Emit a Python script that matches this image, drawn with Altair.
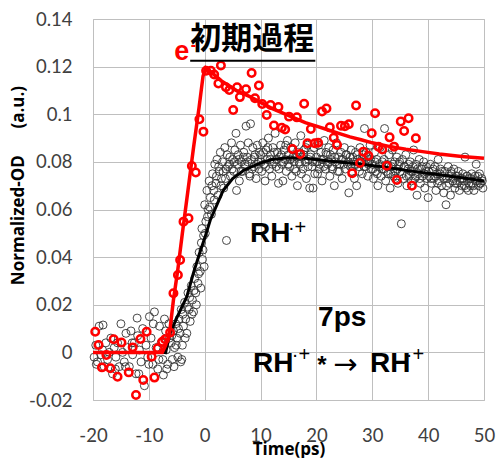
import altair as alt
import pandas as pd

# ---------------- data ----------------
x_ticks = [-20, -10, 0, 10, 20, 30, 40, 50]
y_ticks = [-0.02, 0, 0.02, 0.04, 0.06, 0.08, 0.1, 0.12, 0.14]

# red data points
red_x = [-19.6, -19.0, -18.4, -17.6, -16.9, -16.3, -15.6, -14.9, -13.6, -12.9, -12.3, -11.5, -11.0, -10.4,
         -9.5, -9.0, -8.4, -7.6, -7.1, -6.2, -5.6, -4.8, -4.4, -3.8, -2.9, -2.3, -1.6, -0.95, -0.23, 0.25,
         1.1, 1.7, 2.45, 2.9, 3.8, 4.4, 5.1, 5.8, 6.3, 7.4, 8.4, 9.0, 9.7, 10.3, 11.1, 11.8, 12.4, 13.2,
         13.8, 14.4, 15.1, 15.7, 16.5, 17.1, 17.8, 18.4, 19.0, 19.7, 20.3, 21.0, 21.8, 22.4, 23.1, 23.7,
         24.4, 25.1, 25.8, 26.4, 27.1, 27.8, 28.4, 29.3, 29.9, 30.5, 31.1, 31.8, 32.6, 33.1, 33.9, 34.4,
         35.1, 35.7, 36.5, 37.1, 37.8]
red_y = [0.0087, 0.0031, -0.0063, -0.0011, -0.0067, 0.0055, -0.0102, 0.0041, -0.0084, 0.0021, -0.0179,
         0.0056, -0.0116, 0.0087, -0.0018, -0.0106, 0.0017, 0.0045, 0.0055, 0.0083, 0.0248, 0.0325, 0.0388,
         0.0549, 0.0563, 0.0783, 0.0755, 0.0979, 0.0927, 0.1183, 0.1183, 0.1167, 0.1129, 0.1205, 0.1113,
         0.1102, 0.1018, 0.1113, 0.1072, 0.1105, 0.1173, 0.1067, 0.1121, 0.1043, 0.0997, 0.1039, 0.0953,
         0.1030, 0.0943, 0.0936, 0.0990, 0.0854, 0.0987, 0.0833, 0.1044, 0.0878, 0.0938, 0.0878, 0.0880,
         0.1012, 0.1024, 0.0945, 0.0901, 0.0871, 0.0952, 0.0950, 0.0958, 0.0752, 0.1037, 0.0795, 0.0843,
         0.0826, 0.0920, 0.1004, 0.0864, 0.0852, 0.0784, 0.0903, 0.0864, 0.0724, 0.0970, 0.0930, 0.0983,
         0.0700, 0.0899]

# black data points (baseline, rise, plateau)
black_x_base = [-19.8, -19.5, -19.4, -19.2, -18.9, -18.6, -18.3, -18.2, -18.0, -17.7, -17.4, -17.1, -16.8,
                -16.5, -16.2, -16.0, -15.9, -15.6, -15.3, -15.0, -14.7, -14.4, -14.2, -14.1, -13.8, -13.5,
                -13.2, -13.0, -12.9, -12.6, -12.3, -12.1, -12.0, -11.8, -11.7, -11.4, -11.1, -10.8, -10.5,
                -10.2, -10.0, -9.9, -9.6, -9.3, -9.2, -9.0, -8.7, -8.4, -8.2, -8.1, -7.8, -7.5, -7.4, -7.2,
                -7.0, -6.9, -6.8, -6.6, -6.4, -6.3]
black_y_base = [-0.002, 0.003, -0.005, -0.004, 0.011, -0.001, 0.001, 0.0115, -0.006, 0.004, -0.003, 0.000,
                0.006, -0.009, 0.002, -0.007, -0.002, 0.004, -0.006, 0.012, 0.000, -0.004, -0.006, 0.008,
                0.002, -0.006, 0.009, 0.004, -0.001, 0.004, -0.009, 0.0144, 0.007, -0.009, 0.001, -0.004,
                0.010, -0.014, 0.003, -0.002, -0.005, 0.015, 0.006, -0.005, 0.012, 0.017, 0.002, -0.007,
                -0.003, 0.011, 0.004, -0.003, -0.0095, 0.014, 0.009, 0.001, -0.007, -0.005, 0.012, 0.006]

black_x_rise = [-6.0, -5.9, -5.8, -5.6, -5.5, -5.4, -5.2, -5.1, -5.0, -4.8, -4.7, -4.6, -4.4, -4.3, -4.2,
                -4.1, -4.0, -3.9, -3.8, -3.6, -3.5, -3.4, -3.2, -3.1, -3.0, -2.8, -2.7, -2.6, -2.4, -2.3,
                -2.2, -2.0, -1.9, -1.8, -1.6, -1.5, -1.4, -1.2, -1.1, -1.0, -0.8, -0.7, -0.6, -0.5, -0.4,
                -0.3, -0.2, -0.1]
black_y_rise = [0.004, 0.007, -0.003, 0.009, -0.006, 0.002, 0.012, 0.003, 0.006, -0.002, 0.010, 0.014,
                0.008, -0.004, 0.018, -0.003, 0.003, 0.016, 0.011, 0.021, 0.006, 0.014, 0.008, 0.019, 0.025,
                0.018, 0.023, 0.013, 0.028, 0.016, 0.022, 0.017, 0.026, 0.031, 0.025, 0.020, 0.036, 0.029,
                0.033, 0.042, 0.034, 0.027, 0.046, 0.052, 0.039, 0.043, 0.049, 0.036]

black_x_early = [0.0, 0.2, 0.4, 0.6, 0.8, 1.0, 1.2, 1.4, 1.6, 1.8, 2.0, 2.2, 2.4, 2.6, 2.8, 3.0, 3.2, 3.4,
                 3.6, 3.8, 4.0, 3.9, 4.4, 4.6, 4.8, 5.0, 5.2, 5.4, 5.6, 5.8, 6.0, 6.2, 6.4, 6.6, 6.8, 7.0,
                 7.2, 7.4, 7.6, 7.8, 8.0, 8.2, 8.4, 8.6, 8.8, 9.0, 9.2, 9.4, 9.6, 9.8,
                 0.1, 0.5, 0.9, 1.3, 1.7, 2.1, 2.5, 2.9, 3.3, 3.7, 4.1, 4.5, 4.9, 5.3, 5.7, 6.1, 6.5, 6.9,
                 7.3, 7.7, 8.1, 8.5, 8.9, 9.3, 9.7]
black_y_early = [0.062, 0.055, 0.068, 0.060, 0.072, 0.065, 0.058, 0.075, 0.068, 0.079, 0.071, 0.081, 0.066,
                 0.076, 0.084, 0.073, 0.080, 0.069, 0.086, 0.077, 0.083, 0.047, 0.079, 0.074, 0.088, 0.081,
                 0.076, 0.085, 0.092, 0.079, 0.083, 0.072, 0.087, 0.080, 0.076, 0.084, 0.079, 0.095, 0.082,
                 0.088, 0.075, 0.096, 0.081, 0.086, 0.078, 0.083, 0.073, 0.087, 0.080, 0.084,
                 0.050, 0.057, 0.061, 0.070, 0.064, 0.074, 0.078, 0.070, 0.076, 0.073, 0.078, 0.082, 0.077,
                 0.080, 0.068, 0.081, 0.076, 0.082, 0.078, 0.080, 0.074, 0.077, 0.082, 0.079, 0.077]

black_x_10_20 = [10.0, 10.2, 10.4, 10.6, 10.8, 11.0, 11.2, 11.4, 11.6, 11.8, 12.0, 12.2, 12.4, 12.6, 12.8,
                 13.0, 13.2, 13.4, 13.6, 13.8, 14.0, 14.2, 14.4, 14.6, 14.8, 15.0, 15.2, 15.4, 15.6, 15.8,
                 16.0, 16.2, 16.4, 16.6, 16.8, 17.0, 17.2, 17.4, 17.6, 17.8, 18.0, 18.2, 18.4, 18.6, 18.8,
                 19.0, 19.2, 19.4, 19.6, 19.8,
                 10.1, 10.5, 10.9, 11.3, 11.7, 12.1, 12.5, 12.9, 13.3, 13.7, 14.1, 14.5, 14.9, 15.3, 15.7,
                 16.1, 16.5, 16.9, 17.3, 17.7, 18.1, 18.5, 18.9, 19.3, 19.7]
black_y_10_20 = [0.083, 0.076, 0.088, 0.079, 0.072, 0.085, 0.081, 0.090, 0.077, 0.083, 0.074, 0.086, 0.080,
                 0.092, 0.078, 0.084, 0.071, 0.082, 0.087, 0.079, 0.072, 0.085, 0.081, 0.076, 0.089, 0.083,
                 0.078, 0.086, 0.074, 0.082, 0.080, 0.088, 0.076, 0.070, 0.084, 0.079, 0.091, 0.082, 0.077,
                 0.085, 0.080, 0.073, 0.087, 0.081, 0.069, 0.083, 0.078, 0.069, 0.086, 0.080,
                 0.080, 0.084, 0.078, 0.086, 0.081, 0.079, 0.084, 0.081, 0.077, 0.083, 0.080, 0.087, 0.079,
                 0.081, 0.085, 0.077, 0.082, 0.080, 0.075, 0.083, 0.086, 0.078, 0.082, 0.080, 0.075]

black_x_20_30 = [20.0, 20.2, 20.4, 20.6, 20.8, 21.0, 21.2, 21.4, 21.6, 21.8, 22.0, 22.2, 22.4, 22.6, 22.8,
                 23.0, 23.2, 23.4, 23.6, 23.8, 24.0, 24.2, 24.4, 24.6, 24.8, 25.0, 25.2, 25.4, 25.6, 25.8,
                 26.0, 26.2, 26.4, 26.6, 26.8, 27.0, 27.2, 27.4, 27.6, 27.8, 28.0, 28.2, 28.4, 28.6, 28.8,
                 29.0, 29.2, 29.4, 29.6, 29.8,
                 20.1, 20.5, 20.9, 21.3, 21.7, 22.1, 22.5, 22.9, 23.3, 23.7, 24.1, 24.5, 24.9, 25.3, 25.7,
                 26.1, 26.5, 26.9, 27.3, 27.7, 28.1, 28.5, 28.9, 29.3, 29.7]
black_y_20_30 = [0.082, 0.075, 0.087, 0.079, 0.084, 0.072, 0.081, 0.089, 0.077, 0.083, 0.079, 0.086, 0.074,
                 0.081, 0.078, 0.085, 0.070, 0.080, 0.088, 0.076, 0.082, 0.079, 0.084, 0.073, 0.081, 0.086,
                 0.077, 0.083, 0.079, 0.067, 0.082, 0.085, 0.076, 0.080, 0.073, 0.084, 0.070, 0.081, 0.078,
                 0.086, 0.080, 0.075, 0.083, 0.094, 0.078, 0.082, 0.074, 0.080, 0.087, 0.077,
                 0.080, 0.077, 0.081, 0.078, 0.084, 0.080, 0.083, 0.077, 0.082, 0.079, 0.076, 0.081, 0.079,
                 0.083, 0.080, 0.078, 0.082, 0.079, 0.083, 0.076, 0.081, 0.078, 0.084, 0.079, 0.081]

black_x_30_40 = [30.0, 30.2, 30.4, 30.6, 30.8, 31.0, 31.2, 31.4, 31.6, 31.8, 32.0, 32.2, 32.4, 32.6, 32.8,
                 33.0, 33.2, 33.4, 33.6, 33.8, 34.0, 34.2, 34.4, 34.6, 34.8, 35.0, 35.2, 35.4, 35.6, 35.8,
                 36.0, 36.2, 36.4, 36.6, 36.8, 37.0, 37.2, 37.4, 37.6, 37.8, 38.0, 38.2, 38.4, 38.6, 38.8,
                 39.0, 39.2, 39.4, 39.6, 39.8,
                 30.1, 30.5, 30.9, 31.3, 31.7, 32.1, 32.5, 32.9, 33.3, 33.7, 34.1, 34.5, 34.9, 35.3, 35.7,
                 36.1, 36.5, 36.9, 37.3, 37.7, 38.1, 38.5, 38.9, 39.3, 39.7]
black_y_30_40 = [0.079, 0.073, 0.084, 0.076, 0.081, 0.070, 0.078, 0.086, 0.074, 0.080, 0.077, 0.094, 0.072,
                 0.079, 0.075, 0.083, 0.069, 0.078, 0.085, 0.074, 0.080, 0.076, 0.082, 0.071, 0.079, 0.076,
                 0.054, 0.081, 0.073, 0.078, 0.083, 0.070, 0.077, 0.074, 0.080, 0.072, 0.076, 0.085, 0.073,
                 0.079, 0.066, 0.075, 0.081, 0.071, 0.077, 0.074, 0.080, 0.069, 0.076, 0.073,
                 0.077, 0.080, 0.075, 0.079, 0.077, 0.081, 0.076, 0.078, 0.075, 0.079, 0.073, 0.077, 0.080,
                 0.075, 0.078, 0.074, 0.079, 0.076, 0.078, 0.074, 0.077, 0.073, 0.078, 0.075, 0.078]

black_x_40_50 = [40.0, 40.2, 40.4, 40.6, 40.8, 41.0, 41.2, 41.4, 41.6, 41.8, 42.0, 42.2, 42.4, 42.6, 42.8,
                 43.0, 43.2, 43.4, 43.6, 43.8, 44.0, 44.2, 44.4, 44.6, 44.8, 45.0, 45.2, 45.4, 45.6, 45.8,
                 46.0, 46.2, 46.4, 46.6, 46.8, 47.0, 47.2, 47.4, 47.6, 47.8, 48.0, 48.2, 48.4, 48.6, 48.8,
                 49.0, 49.2, 49.4, 49.6, 49.8,
                 40.1, 40.5, 40.9, 41.3, 41.7, 42.1, 42.5, 42.9, 43.3, 43.7, 44.1, 44.5, 44.9, 45.3, 45.7,
                 46.1, 46.5, 46.9, 47.3, 47.7, 48.1, 48.5, 48.9, 49.3, 49.7]
black_y_40_50 = [0.065, 0.074, 0.079, 0.071, 0.076, 0.073, 0.078, 0.068, 0.075, 0.081, 0.072, 0.077, 0.070,
                 0.074, 0.067, 0.076, 0.062, 0.073, 0.078, 0.071, 0.066, 0.075, 0.072, 0.077, 0.069, 0.074,
                 0.071, 0.076, 0.068, 0.073, 0.070, 0.075, 0.072, 0.082, 0.069, 0.074, 0.068, 0.073, 0.070,
                 0.075, 0.071, 0.068, 0.074, 0.079, 0.072, 0.070, 0.075, 0.071, 0.073, 0.069,
                 0.076, 0.073, 0.077, 0.074, 0.071, 0.075, 0.076, 0.073, 0.070, 0.074, 0.076, 0.073, 0.071,
                 0.074, 0.072, 0.073, 0.070, 0.074, 0.071, 0.073, 0.070, 0.072, 0.074, 0.071, 0.072]

# fitted curves
red_fit_x = [-20, -7.6, -7.0, -6.3, -5.6, -4.8, -4.0, -3.0, -2.0, -1.0, -0.3, 0.2, 1, 2, 3, 4, 5, 6, 8,
             10, 12, 14, 16, 18, 20, 22, 24, 26, 28, 30, 33, 36, 39, 42, 46, 50]
red_fit_y = [0, 0, 0.003, 0.008, 0.022, 0.035, 0.050, 0.068, 0.086, 0.103, 0.116, 0.1195, 0.118, 0.116,
             0.114, 0.1125, 0.111, 0.1095, 0.1075, 0.105, 0.1025, 0.1005, 0.0985, 0.0965, 0.095, 0.0935,
             0.092, 0.0905, 0.0893, 0.088, 0.0865, 0.0853, 0.0843, 0.0833, 0.0823, 0.0815]
black_fit_x = [-20, -7.0, -6.2, -5, -4, -3.2, -2, -1, 0, 1, 2, 3.3, 5, 7, 9.9, 12, 15, 18, 20, 23, 26,
               29, 32, 35, 38, 41, 44, 47, 50]
black_fit_y = [0, 0, 0.008, 0.0145, 0.0195, 0.0234, 0.0335, 0.041, 0.048, 0.0556, 0.061, 0.068, 0.073,
               0.0765, 0.0795, 0.081, 0.0817, 0.0815, 0.081, 0.0802, 0.0795, 0.0787, 0.0779, 0.0768,
               0.0758, 0.0749, 0.074, 0.073, 0.072]

# ---------------- tables ----------------
def pts(xs, ys):
    return pd.DataFrame([{"x": a, "y": b} for a, b in zip(xs, ys)])

red_df = pts(red_x, red_y)
black_df = pd.concat([
    pts(black_x_base, black_y_base), pts(black_x_rise, black_y_rise), pts(black_x_early, black_y_early),
    pts(black_x_10_20, black_y_10_20), pts(black_x_20_30, black_y_20_30),
    pts(black_x_30_40, black_y_30_40), pts(black_x_40_50, black_y_40_50)], ignore_index=True)
red_fit = pts(red_fit_x, red_fit_y)
black_fit = pts(black_fit_x, black_fit_y)

xs = alt.Scale(domain=[-20, 50], nice=False, zero=False)
ys = alt.Scale(domain=[-0.02, 0.14], nice=False, zero=False)

x_axis = alt.Axis(values=x_ticks, labelExpr="toString(datum.value)", title="Time(ps)",
                  labelFont="Lato", labelFontSize=18.5, labelColor="#404040", labelPadding=26,
                  labelFlush=False, grid=True, titleFont="Open Sans", titleFontSize=17,
                  titleFontWeight="bold", titleColor="black", titleBaseline="alphabetic", titleY=54)
y_axis = alt.Axis(values=y_ticks,
                  labelExpr="datum.value == 0 ? '0' : toString(round(datum.value * 100) / 100)",
                  title="Normalized-OD\u00a0\u00a0\u00a0\u00a0\u00a0\u00a0(a.u.)",
                  labelFont="Lato", labelFontSize=18.5, labelColor="#404040", labelPadding=21,
                  labelFlush=False, grid=True, titleFont="Open Sans", titleFontSize=17,
                  titleFontWeight="bold", titleColor="black", titleAngle=270, titleAlign="center",
                  titleBaseline="middle", titleX=-74.5, titleY=166)

X = lambda: alt.X("x:Q", scale=xs, axis=x_axis)
Y = lambda: alt.Y("y:Q", scale=ys, axis=y_axis)

black_pts = alt.Chart(black_df).mark_point(shape="circle", filled=False, size=64, color="#333333",
                                           strokeWidth=0.9, opacity=1).encode(x=X(), y=Y())
black_line = alt.Chart(black_fit).mark_line(color="black", strokeWidth=3).encode(x=X(), y=Y())
red_pts = alt.Chart(red_df).mark_point(shape="circle", filled=False, size=56, color="#ff0000",
                                       strokeWidth=2.5, opacity=1).encode(x=X(), y=Y())
red_line = alt.Chart(red_fit).mark_line(color="#ff0000", strokeWidth=3.5).encode(x=X(), y=Y())


def label(x, y, t, **kw):
    df = pd.DataFrame({"x": [x], "y": [y], "t": [t]})
    return alt.Chart(df).mark_text(**kw).encode(x=X(), y=Y(), text="t:N")


bold = dict(font="Liberation Sans", fontWeight="bold", color="black", baseline="middle")
sup = dict(font="Liberation Sans", fontSize=20, color="black", baseline="middle", align="left")

title_jp = label(-2.6, 0.1312, "初期過程", font="Noto Sans CJK JP", fontWeight="bold", fontSize=31,
                 color="black", align="left", baseline="middle")
underline = alt.Chart(pd.DataFrame({"x": [-2.6], "x2": [19.8], "y": [0.1225]})).mark_rule(
    color="black", strokeWidth=2).encode(x=X(), x2="x2:Q", y=Y())
e_txt = label(-4.1, 0.1262, "e", font="Liberation Sans", fontWeight="bold", fontSize=27,
              color="#ff0000", align="center", baseline="middle")
e_sup = label(-2.5, 0.1290, "-", font="Liberation Sans", fontWeight="bold", fontSize=16,
              color="#ff0000", align="left", baseline="middle")

rh1 = label(8.1, 0.0497, "RH", fontSize=28, align="left", **bold)
rh1s = label(14.9, 0.0522, "·+", **sup)
ps7 = label(20.3, 0.0144, "7ps", fontSize=28, align="left", **bold)
rh2 = label(8.65, -0.0047, "RH", fontSize=28, align="left", **bold)
rh2s = label(15.6, -0.0011, "·+", **sup)
star = label(21.0, -0.0057, "*", fontSize=24, align="center", **bold)
arrow = label(25.2, -0.0053, "→", font="DejaVu Sans", fontSize=29, color="black", align="center",
              baseline="middle")
rh3 = label(29.6, -0.0047, "RH", fontSize=28, align="left", **bold)
rh3s = label(36.0, -0.0011, "·+", **sup)

chart = alt.layer(
    black_pts, black_line, red_pts, red_line, underline, title_jp, e_txt, e_sup,
    rh1, rh1s, ps7, rh2, rh2s, star, arrow, rh3, rh3s
).properties(
    width=391, height=381,
    autosize=alt.AutoSizeParams(type="none"),
    padding={"left": 93, "top": 19, "right": 12, "bottom": 58},
    background="white",
).configure_view(stroke="#bfbfbf", strokeWidth=1).configure_axis(
    gridColor="#bfbfbf", gridWidth=1, domain=False, ticks=False, tickSize=0
)

chart.save("out.html", embed_options={"renderer": "svg", "actions": False})
